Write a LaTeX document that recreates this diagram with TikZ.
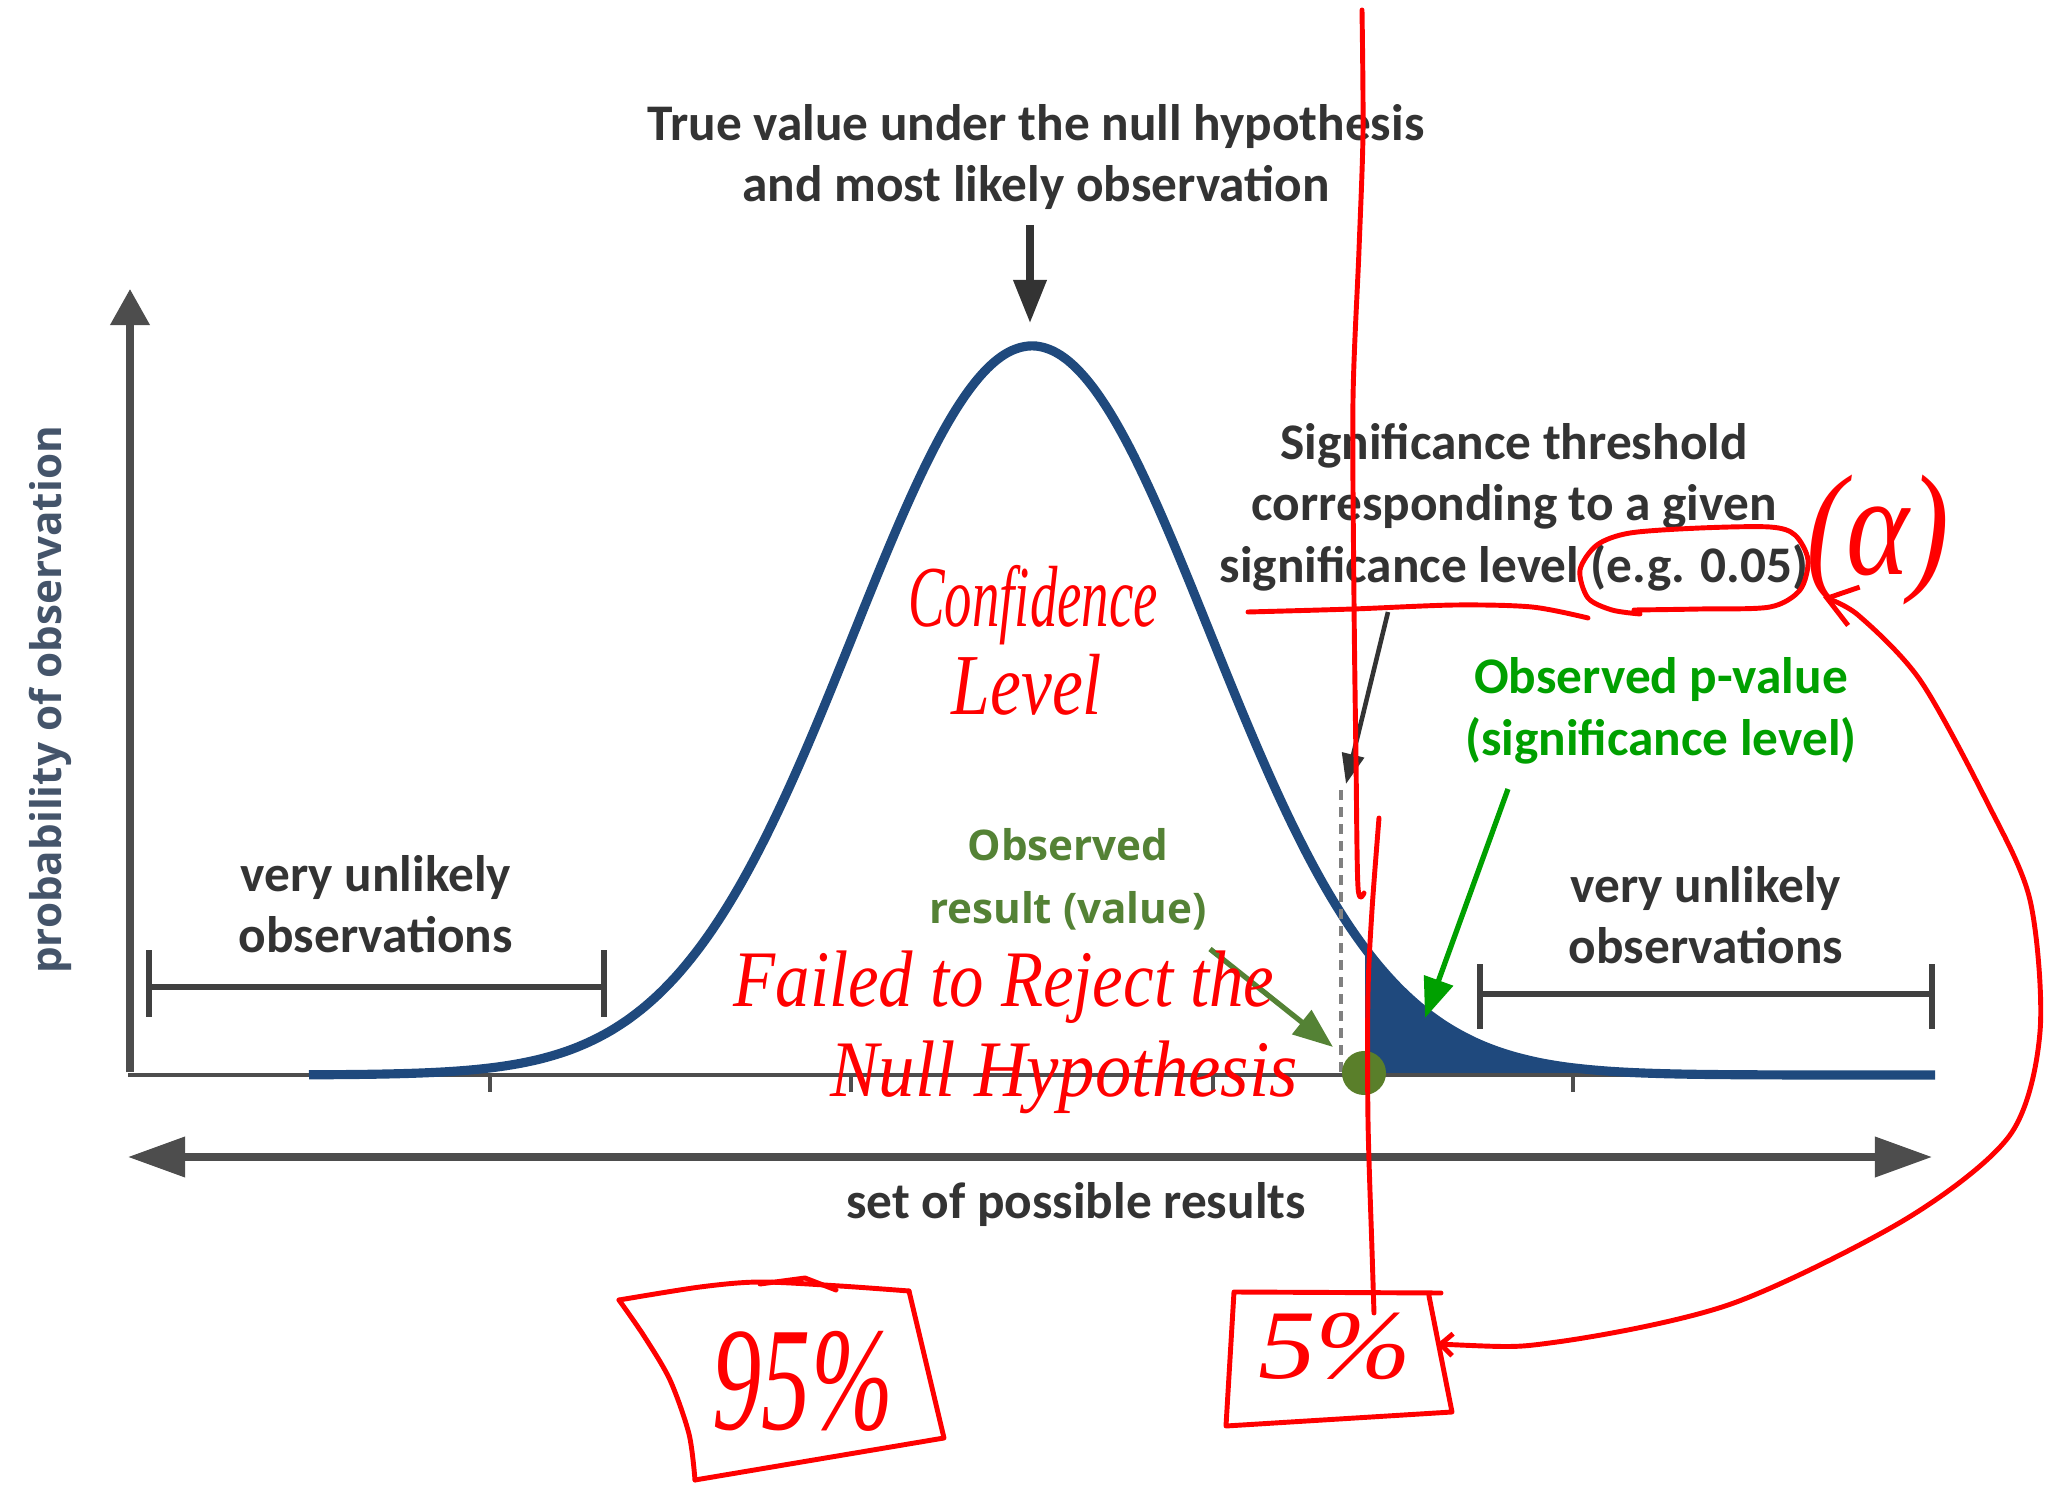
\documentclass[tikz,border=0pt]{standalone}
\usepackage{fontspec}
\usepackage{graphicx}
\newfontfamily\calibri{Carlito}
\newfontfamily\opensans{Open Sans}
\newfontfamily\handfont{Liberation Serif}
\usetikzlibrary{arrows.meta}
\definecolor{axisgray}{HTML}{4D4D4D}
\definecolor{bargray}{HTML}{404040}
\definecolor{textdark}{HTML}{333333}
\definecolor{curveblue}{HTML}{1F497D}
\definecolor{labelblue}{HTML}{44546A}
\definecolor{pgreen}{HTML}{00A000}
\definecolor{olive}{HTML}{548235}
\definecolor{olivedot}{HTML}{5A7F2A}
\definecolor{dashgray}{HTML}{808080}

\begin{document}
\begin{tikzpicture}[x=0.01cm,y=-0.01cm,
	darktext/.style={font={\calibri\bfseries\fontsize{14.6}{17.5}\selectfont},text=textdark,align=center,inner sep=0pt},
	obstext/.style={font={\opensans\bfseries\fontsize{12}{17.9}\selectfont},text=olive,align=center,inner sep=0pt},
	axisline/.style={draw=axisgray,line width=2pt},
	rangebar/.style={draw=bargray,line width=1.6pt},
	pointer/.style={line width=1.5pt},
	hand/.style={font={\handfont\itshape\fontsize{19}{23}\selectfont},text=red,inner sep=0pt},
	bignum/.style={hand,font={\handfont\itshape\fontsize{28}{32}\selectfont}},
	redline/.style={red,line width=1.4pt,line cap=round,line join=round}]
		\useasboundingbox (0,0) rectangle (2062,1485);
		% rejected tail
		\fill[curveblue] (1365,1075) -- plot[domain=1365:1935,samples=60] (\x,{1075-729*exp(-0.5*(((\x-1032)/178)^2))}) -- (1935,1075) -- cycle;
		\draw[axisgray,line width=1.1pt] (128,1075) -- (1935,1075);
		\foreach \t in {490,851,1213,1573}
			\draw[axisgray,line width=1pt] (\t,1075) -- (\t,1092);
		\draw[curveblue,line width=2.6pt] plot[domain=309:1935,samples=200,smooth] (\x,{1075-729*exp(-0.5*(((\x-1032)/178)^2))});
		% axes
		\draw[axisline,-{Triangle[length=0.36cm,width=0.38cm]}] (130,1072) -- (130,289);
		\draw[axisline,{Triangle[length=0.57cm,width=0.39cm]}-{Triangle[length=0.57cm,width=0.39cm]}] (128,1157) -- (1932,1157);
		\draw[rangebar] (149,950) -- (149,1017) (149,987) -- (604,987) (604,950) -- (604,1017);
		\draw[rangebar] (1480,964) -- (1480,1029) (1480,994) -- (1932,994) (1932,964) -- (1932,1029);
		\draw[dashgray,line width=1pt,dash pattern=on 0.1cm off 0.07cm] (1341,790) -- (1341,1073);
		\node[circle,fill=olivedot,minimum size=0.44cm,inner sep=0pt] (obsdot) at (1364,1073) {};
		% labels
		\node[darktext] (title) at (1036,157) {True value under the null hypothesis\\and most likely observation};
		\node[darktext] (sig) at (1514,507) {Significance threshold\\corresponding to a given\\significance level (e.g. 0.05)};
		\node[darktext,text=pgreen] (pval) at (1661,711) {Observed p-value\\(significance level)};
		\node[obstext] (obsres) at (1068,879) {Observed\\result (value)};
		\node[darktext] (leftrare) at (376,904) {very unlikely\\observations};
		\node[darktext] (rightrare) at (1706,915) {very unlikely\\observations};
		\node[darktext] (xlabel) at (1076,1205) {set of possible results};
		\node[obstext,text=labelblue,rotate=90] (ylabel) at (50,700) {probability of observation};
		% pointers
		\coordinate (ttail) at (1030,225);
		\coordinate (peak) at (1030,323);
		\coordinate (sigtail) at (1388,612);
		\coordinate (sigtip) at (1346,784);
		\coordinate (pvtail) at (1508,789);
		\coordinate (pvtip) at (1425,1018);
		\coordinate (obstail) at (1210,949);
		\coordinate (obstip) at (1333,1047);
		\draw[pointer,textdark,line width=2pt,-{Triangle[length=0.43cm,width=0.32cm]}] (ttail) -- (peak);
		\draw[pointer,textdark,line width=1.3pt,-{Triangle[length=0.3cm,width=0.22cm]}] (sigtail) -- (sigtip);
		\draw[pointer,pgreen,-{Triangle[length=0.4cm,width=0.3cm]}] (pvtail) -- (pvtip);
		\draw[pointer,olive,-{Triangle[length=0.4cm,width=0.3cm]}] (obstail) -- (obstip);
		% red notes
		\node[hand] (conf) at (1033,605) {\scalebox{0.82}[1.3]{Confidence}};
		\node[hand] (level) at (1027,685) {\scalebox{1.04}[1.3]{Level}};
		\node[hand] (fail) at (1004,987) {\scalebox{1.03}[1.2]{Failed to Reject the}};
		\node[hand] (null) at (1064,1077) {\scalebox{1.09}[1.2]{Null Hypothesis}};
		\node[bignum] (pct95) at (803,1381) {\scalebox{1}[1.5]{95\%}};
		\node[bignum] (pct5) at (1335,1346) {\scalebox{1.17}[1]{5\%}};
		\node[hand,font={\handfont\itshape\fontsize{34}{40}\selectfont}] (alpha) at (1878,540) {\scalebox{1}[1.2]{(α)}};
		\draw[redline] plot[smooth] coordinates {(1362,10) (1363,133) (1359,250) (1353,400) (1354,600) (1356,760) (1358,887) (1364,893)};
		\draw[redline] plot[smooth] coordinates {(1379,818) (1372,910) (1368,993) (1368,1120) (1372,1250) (1374,1313)};
		\draw[redline] plot[smooth] coordinates {(1248,612) (1353,609) (1455,605) (1532,607) (1588,618)};
		\draw[redline] plot[smooth] coordinates {(1634,610) (1700,609) (1770,607) (1800,590) (1808,560) (1795,535) (1770,527) (1700,528) (1630,533) (1597,545) (1580,570) (1588,598) (1612,610) (1640,614)};
		\draw[redline] plot[smooth] coordinates {(619,1300) (700,1287) (760,1282) (840,1286) (909,1291)};
		\draw[redline] (909,1291) -- (944,1438) -- (695,1480);
		\draw[redline] plot[smooth] coordinates {(695,1480) (689,1434) (670,1380) (644,1336) (619,1300)};
		\draw[redline] (760,1284) -- (805,1278) -- (836,1290);
		\draw[redline] (1441,1293) -- (1234,1292) -- (1226,1426) -- (1452,1412) -- (1429,1296);
		\coordinate (boxhook) at (1437,1344);
		\coordinate (alphatip) at (1823,597);
		\draw[redline,{Straight Barb[length=0.12cm,width=0.22cm]}-{Straight Barb[length=0.28cm,width=0.4cm]}] plot[smooth] coordinates {(boxhook) (1557,1342) (1731,1304) (1906,1219) (2010,1135) (2040,1032) (2030,900) (1986,800) (1920,680) (1858,615) (alphatip)};
	\end{tikzpicture}
\end{document}
